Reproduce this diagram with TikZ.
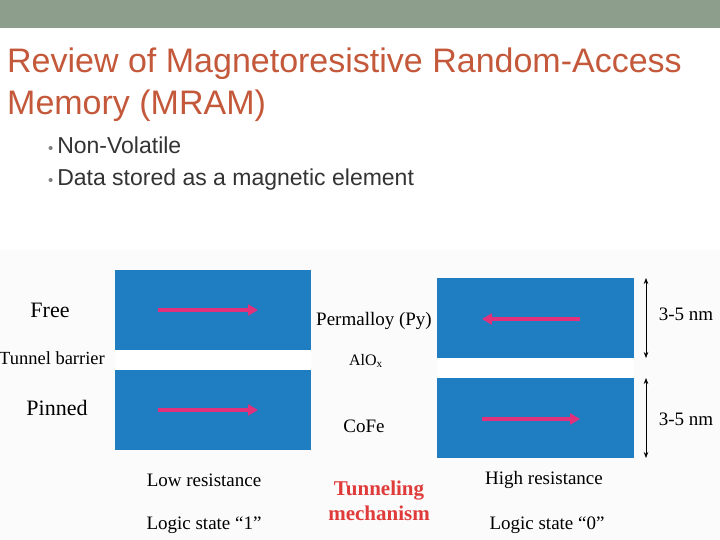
\documentclass[tikz,border=0pt]{standalone}
\usepackage{fontspec}
\usetikzlibrary{arrows.meta}
\setmainfont{Liberation Serif}
\newfontfamily\arialf{Liberation Sans}
\begin{document}
\begin{tikzpicture}[x=1pt,y=-1pt,
  marrow/.style={draw=pinkA,line width=3.5pt,-{Triangle[length=10pt,width=11pt]}},
  dim/.style={draw=black,line width=0.7pt,{Stealth[length=6pt]}-{Stealth[length=6pt]}},
  lbl/.style={font=\fontsize{19}{22}\selectfont,inner sep=0pt}]
\definecolor{blueL}{HTML}{1F7DC1}
\definecolor{pinkA}{HTML}{E0317A}
\definecolor{titleC}{HTML}{C4583A}
\definecolor{barC}{HTML}{8E9E8C}
\definecolor{txtC}{HTML}{333333}
\definecolor{redT}{HTML}{E03B3B}
\useasboundingbox (0,0) rectangle (720,540);
\fill[barC] (0,0) rectangle (720,28);
\fill[white!97!gray] (0,250) rectangle (720,540);
\node[anchor=base west,inner sep=0pt,text=titleC,font=\arialf\fontsize{34}{40}\selectfont] (t1) at (7,73) {Review of Magnetoresistive Random-Access};
\node[anchor=base west,inner sep=0pt,text=titleC,font=\arialf\fontsize{34}{40}\selectfont] (t2) at (7,115) {Memory (MRAM)};
\node[anchor=west,inner sep=0pt,text=txtC,font=\arialf\fontsize{23}{26}\selectfont] (b1) at (48,145) {{\color{gray}\fontsize{15}{16}\selectfont\textbullet}\,Non-Volatile};
\node[anchor=west,inner sep=0pt,text=txtC,font=\arialf\fontsize{23}{26}\selectfont] (b2) at (48,180) {{\color{gray}\fontsize{15}{16}\selectfont\textbullet}\,Data stored as a magnetic element};
% left stack
\fill[blueL] (115,270) rectangle (311,350);
\fill[white] (115,350) rectangle (311,370);
\fill[blueL] (115,370) rectangle (311,450);
\coordinate (la1) at (158,310); \coordinate (lb1) at (258,310);
\coordinate (la2) at (158,410); \coordinate (lb2) at (258,410);
\draw[marrow] (la1) -- (lb1);
\draw[marrow] (la2) -- (lb2);
% right stack
\fill[blueL] (437,278) rectangle (634,358);
\fill[white] (437,358) rectangle (634,378);
\fill[blueL] (437,378) rectangle (634,458);
\coordinate (ra1) at (580,319); \coordinate (rb1) at (482,319);
\coordinate (ra2) at (482,419); \coordinate (rb2) at (580,419);
\draw[marrow] (ra1) -- (rb1);
\draw[marrow] (ra2) -- (rb2);
\coordinate (d1) at (646,278); \coordinate (d2) at (646,358);
\coordinate (d3) at (646,378); \coordinate (d4) at (646,458);
\draw[dim] (d1) -- (d2);
\draw[dim] (d3) -- (d4);
% labels
\node[lbl,font=\fontsize{22}{24}\selectfont] (free) at (50,310) {Free};
\node[lbl,font=\fontsize{18.5}{20}\selectfont] (tb) at (52,358) {Tunnel barrier};
\node[lbl,font=\fontsize{22}{24}\selectfont] (pin) at (57,408) {Pinned};
\node[lbl] (py) at (374,321) {Permalloy (Py)};
\node[lbl,font=\fontsize{16}{18}\selectfont] (alo) at (366,361) {AlO$_\mathrm{x}$};
\node[lbl] (cofe) at (364,426) {CoFe};
\node[lbl] (n1) at (686,314) {3-5 nm};
\node[lbl] (n2) at (686,419) {3-5 nm};
\node[lbl] (low) at (204,480) {Low resistance};
\node[lbl] (ls1) at (204,525) {Logic state “1”};
\node[lbl,text=redT,font=\bfseries\fontsize{21}{23}\selectfont,align=center] (tun) at (379,501) {Tunneling\\[2pt]mechanism};
\node[lbl] (high) at (544,480) {High resistance};
\node[lbl] (ls0) at (547,525) {Logic state “0”};
\end{tikzpicture}
\end{document}
